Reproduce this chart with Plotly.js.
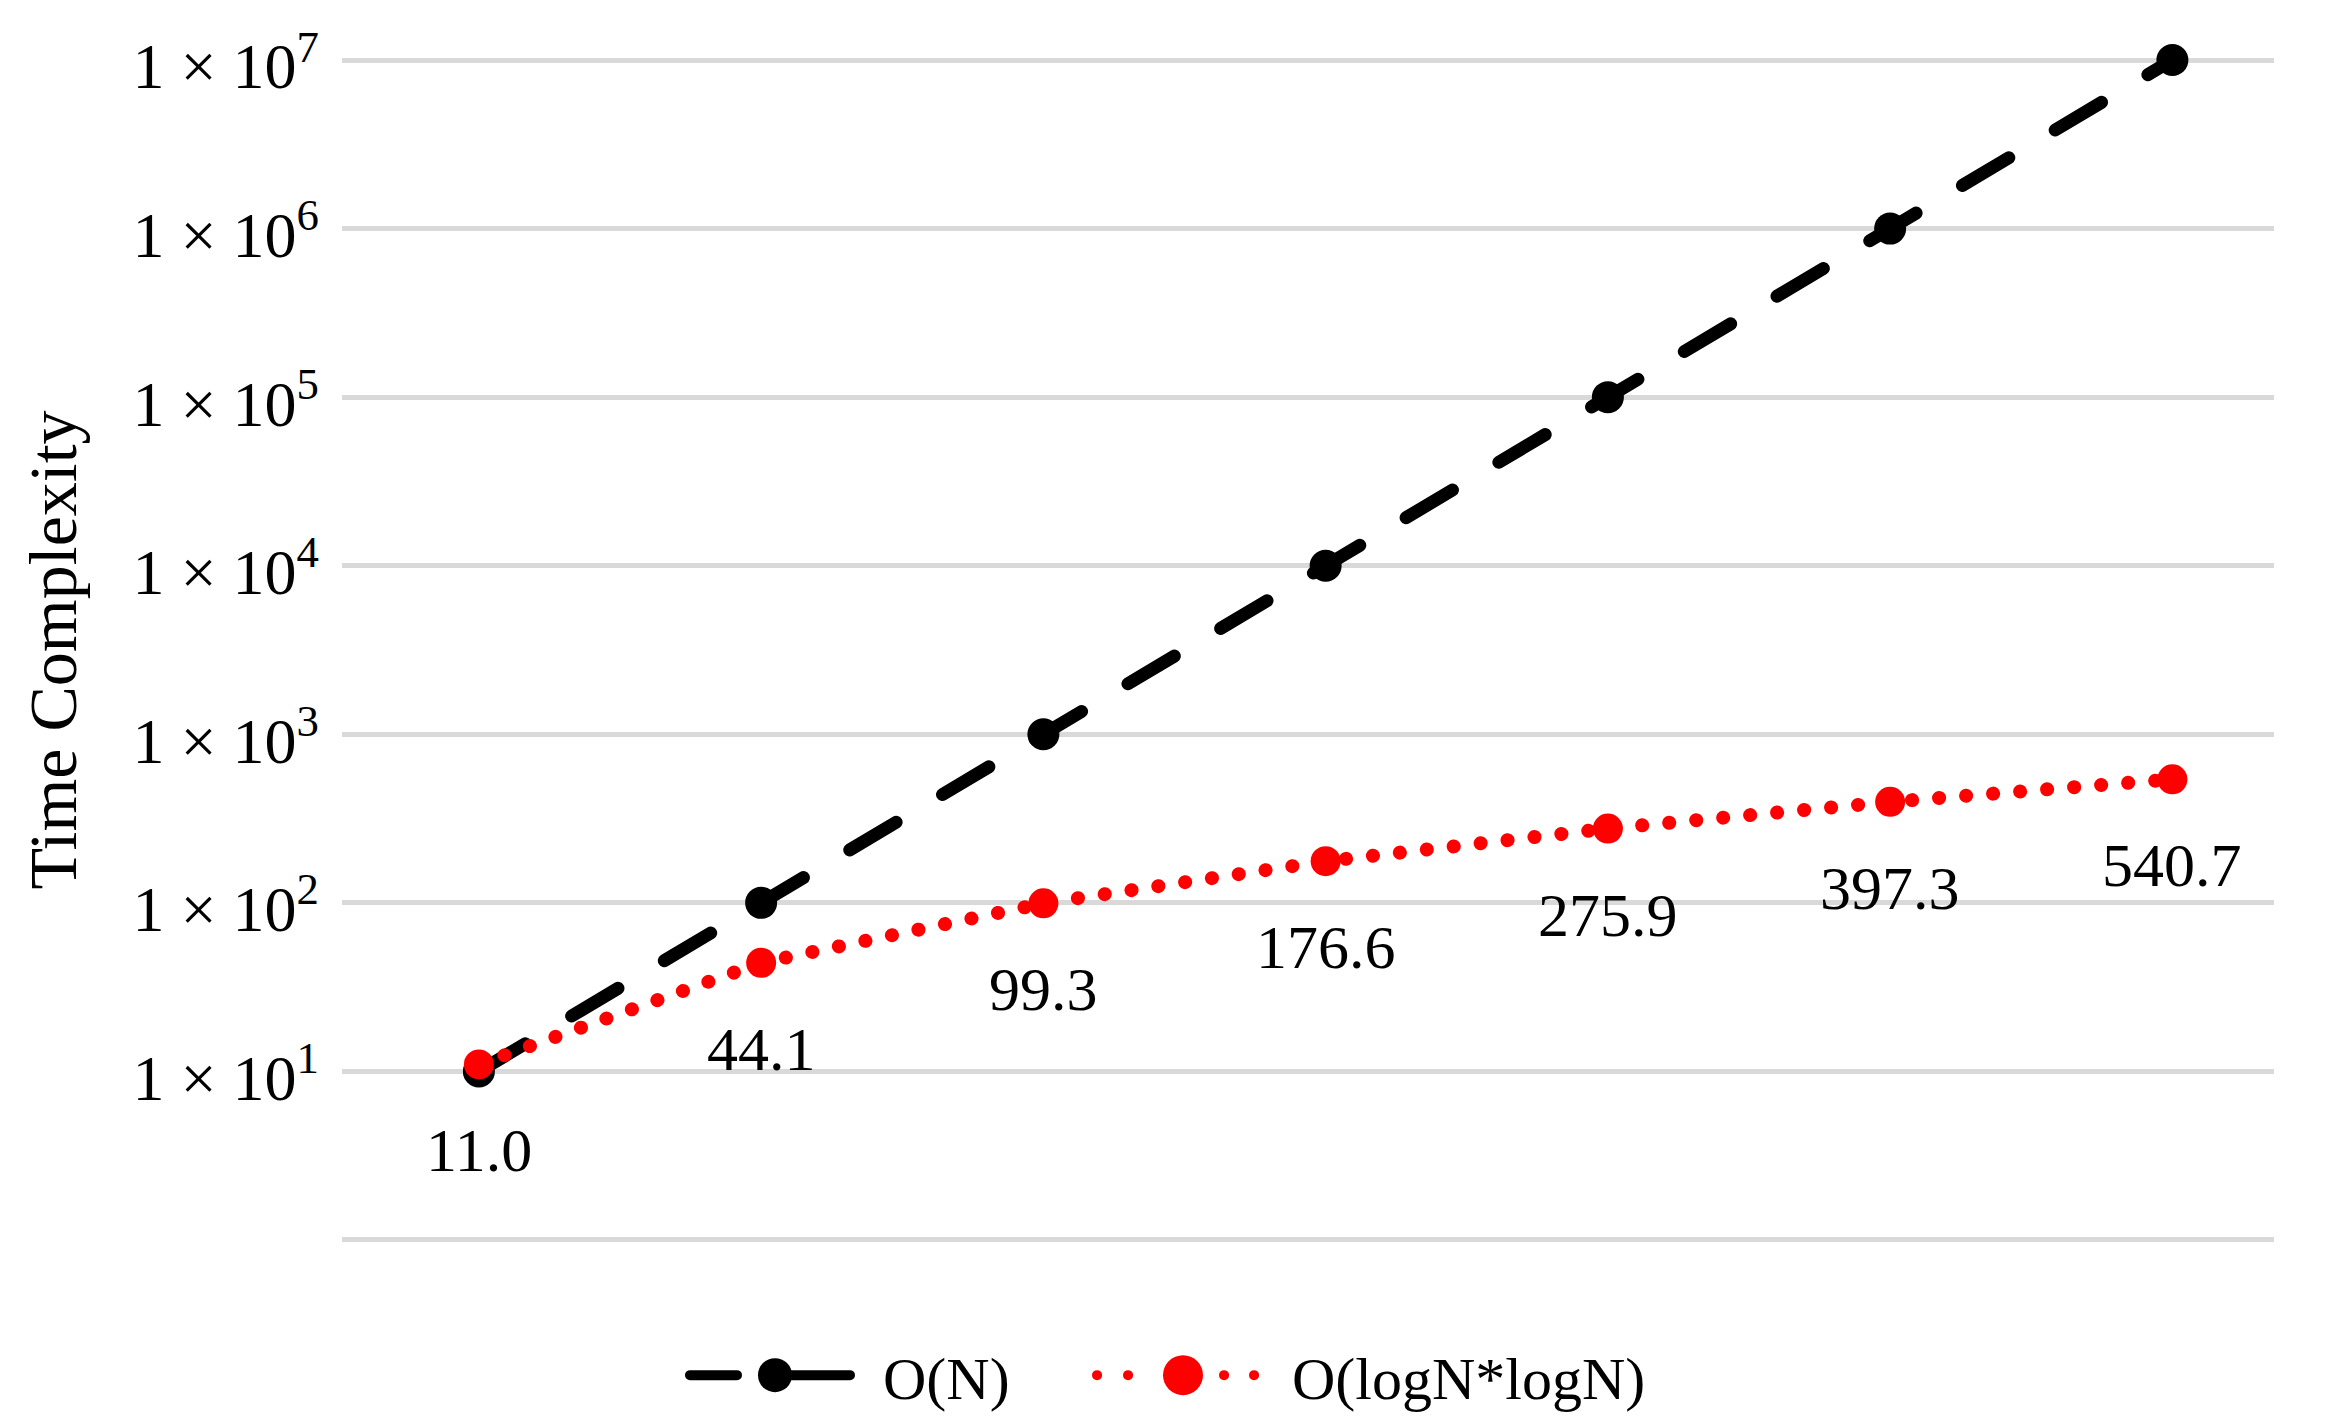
<!DOCTYPE html>
<html>
<head>
<meta charset="utf-8">
<script src="https://cdn.plot.ly/plotly-3.0.1.min.js"></script>
<style>
  html, body { margin: 0; padding: 0; background: #fff; }
  .scatterlayer path.js-line, .legendlines path { stroke-linecap: round; }
</style>
</head>
<body>
<div id="chart" style="width:2349px;height:1425px;"></div>
<script>
// Data
const categories = ["n1", "n2", "n3", "n4", "n5", "n6", "n7"];
const seriesON = [10, 100, 1000, 10000, 100000, 1000000, 10000000];
const seriesLogLog = [11.0, 44.1, 99.3, 176.6, 275.9, 397.3, 540.7];
const logLogLabels = ["11.0", "44.1", "99.3", "176.6", "275.9", "397.3", "540.7"];
const yTickVals = [1, 10, 100, 1000, 10000, 100000, 1000000, 10000000];
const yTickText = ["", "1 × 10<sup>1</sup>", "1 × 10<sup>2</sup>", "1 × 10<sup>3</sup>", "1 × 10<sup>4</sup>",
                   "1 × 10<sup>5</sup>", "1 × 10<sup>6</sup>", "1 × 10<sup>7</sup>"];
const seriesNames = ["O(N)", "O(logN*logN)"];

const FONT = "Liberation Serif, Times New Roman, serif";

const traces = [
  {
    x: categories, y: seriesON, name: seriesNames[0], type: "scatter", mode: "lines+markers",
    line: { color: "#000000", width: 13, dash: "54px,54px" },
    marker: { color: "#000000", size: 32, symbol: "circle" },
    cliponaxis: false
  },
  {
    x: categories, y: seriesLogLog, name: seriesNames[1], type: "scatter", mode: "lines+markers",
    line: { color: "#ff0000", width: 14, dash: "0.1px,27px" },
    marker: { color: "#ff0000", size: 30, symbol: "circle" },
    cliponaxis: false
  }
];

const annotations = seriesLogLog.map((v, i) => ({
  x: categories[i], y: Math.log10(v), xref: "x", yref: "y",
  text: logLogLabels[i], showarrow: false, yshift: -86,
  font: { family: FONT, size: 62, color: "#000000" }
}));

const layout = {
  width: 2349, height: 1425,
  margin: { l: 342, r: 75, t: 58, b: 183 },
  paper_bgcolor: "#ffffff", plot_bgcolor: "#ffffff",
  font: { family: FONT, size: 60, color: "#000000" },
  showlegend: true,
  legend: {
    orientation: "h", x: 0.5, xanchor: "center", xref: "container",
    y: 0.035, yanchor: "middle", yref: "container",
    font: { family: FONT, size: 60, color: "#000000" },
    itemwidth: 167
  },
  xaxis: {
    type: "category", range: [-0.485, 6.36], showgrid: false, zeroline: false,
    showline: false, showticklabels: false, ticks: ""
  },
  yaxis: {
    type: "log", range: [-0.012, 7.012], tickmode: "array", tickvals: yTickVals, ticktext: yTickText,
    showgrid: true, gridcolor: "#d9d9d9", gridwidth: 5, zeroline: false, showline: false,
    ticks: "", ticklabelstandoff: 22, ticklabelshift: 6,
    tickfont: { family: FONT, size: 64, color: "#000000" },
    title: { text: "Time Complexity", font: { family: FONT, size: 68, color: "#000000" }, standoff: 2 }
  },
  annotations: annotations
};

// Legend / title placement (pixel layout, as in the reference)
const legendLineStart = [690, 1097];
const legendTextStart = [883, 1292];
const legendMarkerCenter = [775, 1183];
const legendMarkerRadius = [17, 20];
const legendDash = ["47,53,60", "0.1,30.9,0.1,95.9,0.1,29.9"];
const yTitleCenterX = 53;

function parseT(el) {
  const t = el.getAttribute('transform') || '';
  const m = /translate\(\s*([-\d.e]+)[\s,]+([-\d.e]+)\s*\)/.exec(t);
  return m ? [+m[1], +m[2]] : [0, 0];
}

Plotly.newPlot("chart", traces, layout, { displayModeBar: false, staticPlot: true }).then(gd => {
  gd.querySelectorAll('.legend [clip-path]').forEach(e => e.removeAttribute('clip-path'));
  const items = gd.querySelectorAll('.legend g.traces');
  items.forEach((g, i) => {
    const line = g.querySelector('.legendlines path');
    const txt = g.querySelector('text.legendtext');
    const pt = g.querySelector('.legendpoints path');
    if (line) {
      line.style.strokeDasharray = legendDash[i];
      const lr = line.getBoundingClientRect();
      const [tx, ty] = parseT(g);
      g.setAttribute('transform', `translate(${tx + legendLineStart[i] - lr.left},${ty})`);
    }
    if (pt) {
      const r = legendMarkerRadius[i];
      pt.setAttribute('d', `M${r},0A${r},${r} 0 1,1 0,-${r}A${r},${r} 0 0,1 ${r},0Z`);
      const pr = pt.getBoundingClientRect();
      const [px, py] = parseT(pt);
      pt.setAttribute('transform', `translate(${px + legendMarkerCenter[i] - (pr.left + pr.right) / 2},${py})`);
    }
    if (txt) {
      const tr = txt.getBoundingClientRect();
      txt.setAttribute('x', (+txt.getAttribute('x') || 0) + legendTextStart[i] - tr.left);
    }
  });
  const yt = gd.querySelector('text.ytitle');
  if (yt) {
    const r = yt.getBoundingClientRect();
    const dx = yTitleCenterX - (r.left + r.right) / 2;
    yt.setAttribute('transform', `translate(${dx},0) ` + (yt.getAttribute('transform') || ''));
  }
});
</script>
</body>
</html>
